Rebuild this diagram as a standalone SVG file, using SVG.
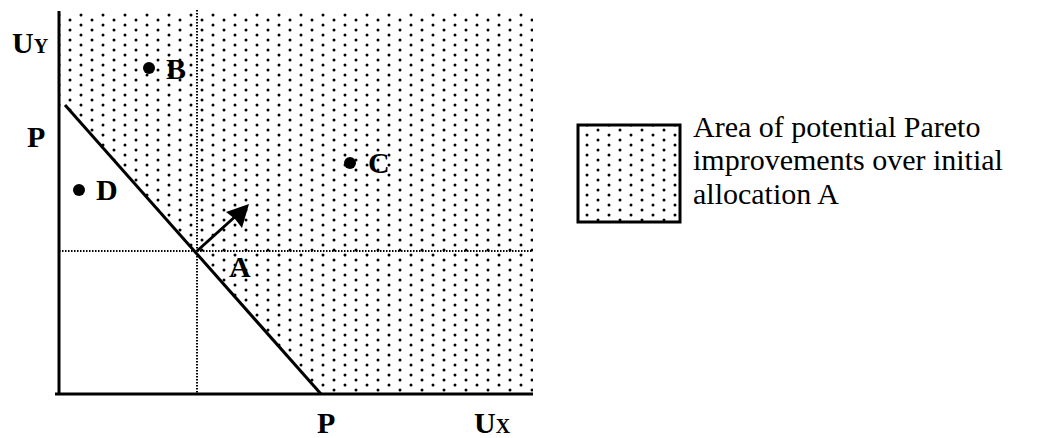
<svg xmlns="http://www.w3.org/2000/svg" width="1060" height="438" viewBox="0 0 1060 438">
  <style>
    .lbl { font-family: "Liberation Serif", "Times New Roman", serif; font-weight: bold; font-size: 30px; fill: #000; }
    .leg { font-family: "Liberation Serif", "Times New Roman", serif; font-size: 30px; fill: #000; }
    .axis { stroke: #000; stroke-width: 3; fill: none; }
    .guide { stroke: #000; stroke-width: 2; stroke-dasharray: 1.5 1.5; fill: none; }
    .frontier { stroke: #000; stroke-width: 3; fill: none; }
    .pt { fill: #000; }
  </style>
  <defs>
    <pattern id="dots" patternUnits="userSpaceOnUse" x="4" y="0" width="22" height="10">
      <circle cx="0" cy="0" r="1.5" fill="#000"/>
      <circle cx="22" cy="0" r="1.5" fill="#000"/>
      <circle cx="0" cy="10" r="1.5" fill="#000"/>
      <circle cx="22" cy="10" r="1.5" fill="#000"/>
      <circle cx="11" cy="5" r="1.5" fill="#000"/>
    </pattern>
  </defs>

  <rect width="1060" height="438" fill="#fff"/>

  <!-- shaded region -->
  <g id="shading">
    <polygon points="60,12 533,12 533,394 320,394 68,107 60,107" fill="url(#dots)"/>
  </g>

  <!-- connectors and lines -->
  <g id="connectors">
    <line class="guide" x1="197" y1="10" x2="197" y2="394"/>
    <line class="guide" x1="59" y1="251" x2="533" y2="251"/>
    <line class="frontier" x1="65" y1="105" x2="321" y2="394"/>
    <line x1="197" y1="251" x2="238" y2="214" stroke="#000" stroke-width="3"/>
    <polygon points="249,204 242,228 235,219 226,212" fill="#000"/>
  </g>

  <!-- axes -->
  <g id="axes">
    <line class="axis" x1="59" y1="11" x2="59" y2="395"/>
    <line class="axis" x1="55" y1="394" x2="533" y2="394"/>
    <text class="lbl" x="12" y="53">U<tspan font-size="20">Y</tspan></text>
    <text class="lbl" x="27" y="147">P</text>
    <text class="lbl" x="317" y="433">P</text>
    <text class="lbl" x="474" y="433">U<tspan font-size="20">X</tspan></text>
  </g>

  <g id="point-A">
    <text class="lbl" x="229" y="277">A</text>
  </g>
  <g id="point-B">
    <circle class="pt" cx="149" cy="68" r="6"/>
    <text class="lbl" x="166" y="79">B</text>
  </g>
  <g id="point-C">
    <circle class="pt" cx="350" cy="163" r="6"/>
    <text class="lbl" x="368" y="173">C</text>
  </g>
  <g id="point-D">
    <circle class="pt" cx="79" cy="190" r="6"/>
    <text class="lbl" x="96" y="200">D</text>
  </g>

  <!-- legend -->
  <g id="legend">
    <rect x="578" y="125" width="102" height="97" fill="url(#dots)" stroke="#000" stroke-width="3"/>
    <text class="leg" x="693" y="136.5">Area of potential Pareto</text>
    <text class="leg" x="693" y="170">improvements over initial</text>
    <text class="leg" x="693" y="203.5">allocation A</text>
  </g>
</svg>
